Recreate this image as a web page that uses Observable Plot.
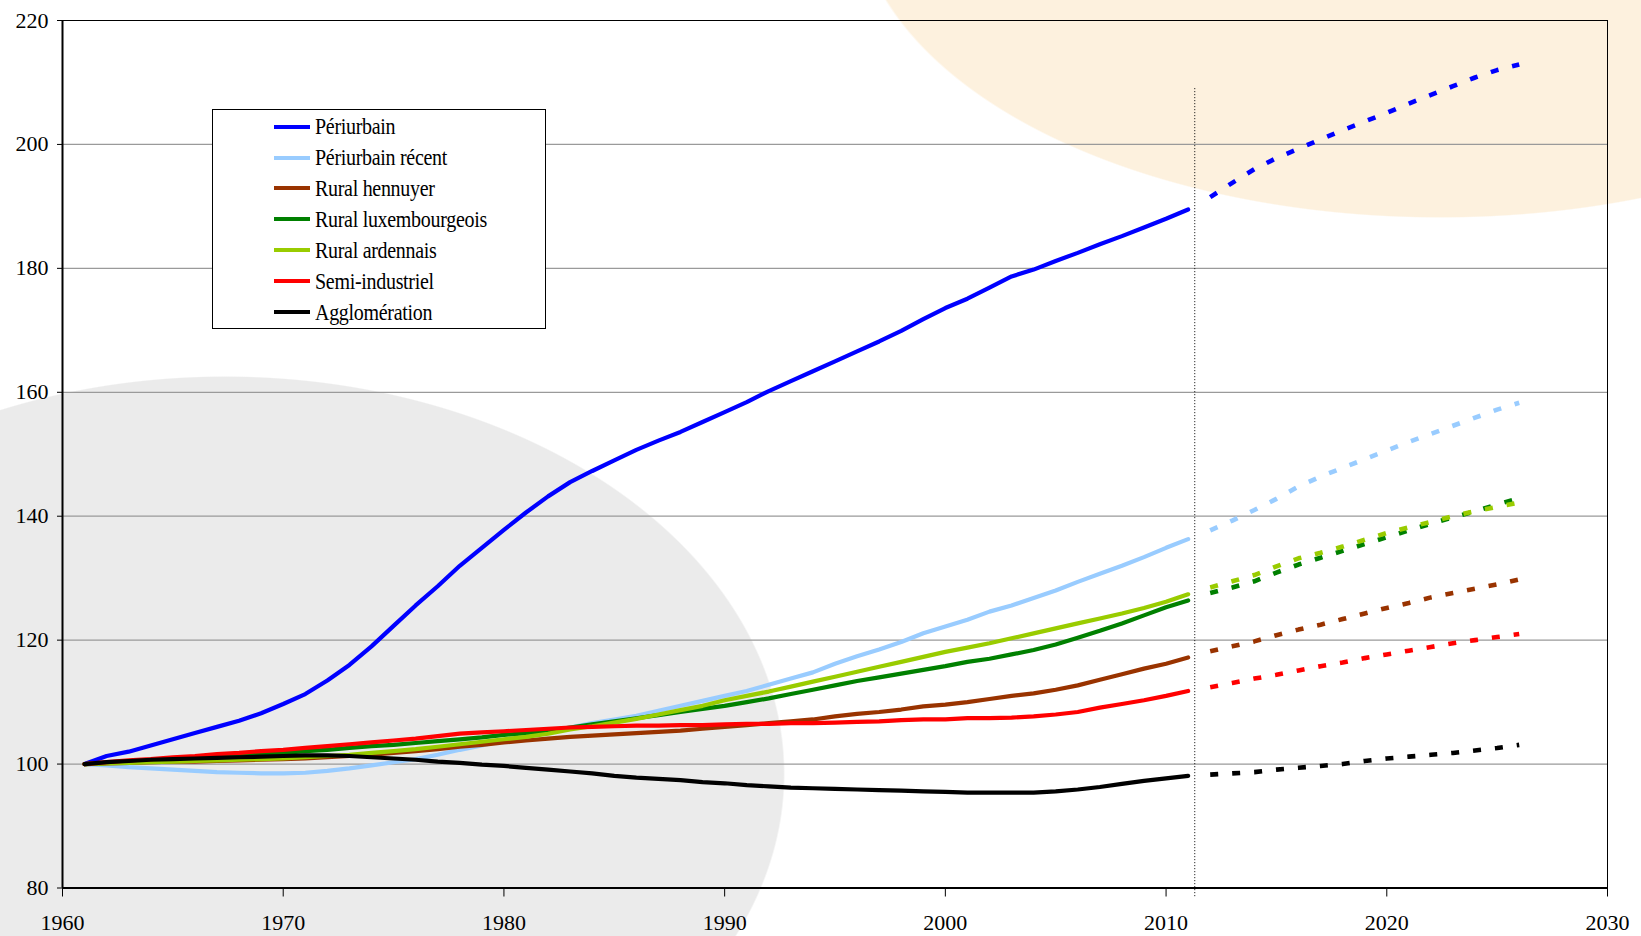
<!DOCTYPE html>
<html>
<head>
<meta charset="utf-8">
<script src="https://cdn.jsdelivr.net/npm/d3@7"></script>
<script src="https://cdn.jsdelivr.net/npm/@observablehq/plot@0.6"></script>
<style>
  html, body { margin: 0; padding: 0; background: #fff; }
  #wrap {
    position: relative; width: 1641px; height: 936px; overflow: hidden;
    background:
      radial-gradient(585px 318px at 1440px -100px, #fdf1de 0, #fdf1de 99.6%, rgba(253,241,222,0) 100%),
      radial-gradient(560px 398px at 225px 774px, #ebebeb 0, #ebebeb 99.7%, rgba(235,235,235,0) 100%),
      #ffffff;
  }
  #legend {
    position: absolute; left: 212px; top: 109px; width: 334px; height: 220px;
    border: 1px solid #000; background: #fff; box-sizing: border-box;
    font-family: "Liberation Serif", "Times New Roman", serif; font-size: 20px; color: #000;
  }
  #legend .row { position: absolute; left: 0; height: 24px; display: flex; align-items: center; }
  #legend .sw { position: absolute; left: 61px; width: 36px; height: 4px; }
  #legend .lb { position: absolute; left: 102px; white-space: nowrap; letter-spacing: -0.3px; transform: scaleY(1.18); transform-origin: left center; }
</style>
</head>
<body>
<div id="wrap"><div id="chart"></div><div id="legend"></div></div>
<script>
// ---- data ----
const years = d3.range(1961, 2012);
const projYears = d3.range(2012, 2027);
const seriesNames = ["Périurbain", "Périurbain récent", "Rural hennuyer", "Rural luxembourgeois", "Rural ardennais", "Semi-industriel", "Agglomération"];
const seriesColors = ["#0000ff", "#99ccff", "#993300", "#008000", "#99cc00", "#ff0000", "#000000"];
const yTicks = [80, 100, 120, 140, 160, 180, 200, 220];
const xTicks = [1960, 1970, 1980, 1990, 2000, 2010, 2020, 2030];
const baseYear = 2011.3;

const periurbain = [100,101.3,102,103,104,105,106,107,108.2,109.7,111.3,113.5,116,119,122.3,125.6,128.7,132,134.9,137.8,140.6,143.2,145.5,147.3,149,150.7,152.2,153.6,155.2,156.8,158.4,160.2,161.8,163.4,165,166.6,168.2,169.9,171.8,173.6,175.1,176.9,178.7,179.8,181.2,182.5,183.9,185.2,186.6,188,189.5];
const periurbainRecent = [100,99.8,99.5,99.3,99.1,98.9,98.7,98.6,98.5,98.5,98.6,98.9,99.3,99.8,100.3,100.8,101.5,102.3,103,103.8,104.5,105.2,105.9,106.6,107.2,107.8,108.6,109.4,110.2,111,111.8,112.8,113.8,114.8,116.2,117.4,118.5,119.7,121.1,122.2,123.3,124.6,125.6,126.8,128,129.4,130.7,132,133.4,134.9,136.3];
const ruralHennuyer = [100,100.1,100.2,100.3,100.4,100.4,100.5,100.6,100.7,100.8,100.9,101.1,101.3,101.5,101.8,102.1,102.4,102.8,103.1,103.5,103.8,104.1,104.4,104.6,104.8,105,105.2,105.4,105.7,106,106.3,106.6,106.9,107.2,107.7,108.1,108.4,108.8,109.3,109.6,110,110.5,111,111.4,112,112.7,113.6,114.5,115.4,116.2,117.2];
const ruralLux = [100,100.2,100.4,100.6,100.8,101,101.2,101.4,101.6,101.8,102.1,102.3,102.6,102.9,103.1,103.4,103.7,104,104.3,104.7,105,105.4,105.9,106.4,106.9,107.4,107.9,108.4,108.9,109.4,110,110.6,111.3,112,112.7,113.4,114,114.6,115.2,115.8,116.5,117,117.7,118.4,119.3,120.4,121.5,122.7,124,125.3,126.4];
const ruralArdennais = [100,100.1,100.2,100.3,100.4,100.5,100.6,100.7,100.8,100.9,101.1,101.3,101.5,101.8,102.1,102.4,102.8,103.2,103.6,104,104.4,104.9,105.6,106.1,106.7,107.3,108,108.7,109.4,110.3,111,111.7,112.5,113.3,114.1,114.9,115.7,116.5,117.3,118.1,118.8,119.5,120.3,121.1,121.9,122.7,123.5,124.3,125.2,126.2,127.4];
const semiIndustriel = [100,100.3,100.6,100.8,101.1,101.3,101.6,101.8,102.1,102.3,102.6,102.9,103.2,103.5,103.8,104.1,104.5,104.9,105.1,105.3,105.5,105.7,105.9,106,106.1,106.2,106.2,106.3,106.3,106.4,106.5,106.5,106.6,106.6,106.7,106.8,106.9,107.1,107.2,107.2,107.4,107.4,107.5,107.7,108,108.4,109.1,109.7,110.3,111,111.8];
const agglomeration = [100,100.3,100.5,100.7,100.8,100.9,101,101.1,101.2,101.3,101.4,101.4,101.3,101.1,100.9,100.7,100.4,100.2,99.9,99.7,99.4,99.1,98.8,98.5,98.1,97.8,97.6,97.4,97.1,96.9,96.6,96.4,96.2,96.1,96,95.9,95.8,95.7,95.6,95.5,95.4,95.4,95.4,95.4,95.6,95.9,96.3,96.8,97.3,97.7,98.1];

const projPeriurbain = [191.5,193.8,196,197.8,199.3,200.8,202.3,203.7,205.1,206.6,208,209.4,210.8,212,212.9];
const projPeriurbainRecent = [137.7,139.3,141,142.8,144.8,146.4,147.8,149.2,150.6,152,153.3,154.6,155.9,157.2,158.3];
const projRuralHennuyer = [118.2,119,119.8,120.8,121.7,122.5,123.4,124.3,125.2,126,126.9,127.6,128.3,129,129.8];
const projRuralLux = [127.6,128.5,129.5,130.9,132.2,133.3,134.4,135.5,136.6,137.7,138.8,139.8,140.8,141.9,142.9];
const projRuralArdennais = [128.5,129.5,130.5,131.9,133.2,134.1,135.1,136.2,137.3,138.2,139.1,140,140.8,141.5,142.2];
const projSemiIndustriel = [112.4,113.1,113.8,114.4,115.1,115.8,116.4,117.1,117.7,118.3,118.9,119.5,120,120.5,121];
const projAgglomeration = [98.3,98.5,98.7,99.1,99.4,99.7,100,100.5,100.9,101.2,101.5,101.8,102.2,102.6,103.1];

const observed = [periurbain, periurbainRecent, ruralHennuyer, ruralLux, ruralArdennais, semiIndustriel, agglomeration];
const projected = [projPeriurbain, projPeriurbainRecent, projRuralHennuyer, projRuralLux, projRuralArdennais, projSemiIndustriel, projAgglomeration];

const obsRows = seriesNames.flatMap((s, i) => years.map((y, j) => ({series: s, year: y, value: observed[i][j]})));
const projRows = seriesNames.flatMap((s, i) => projYears.map((y, j) => ({series: s, year: y, value: projected[i][j]})));

const font = '"Liberation Serif", "Times New Roman", serif';

const chart = Plot.plot({
  width: 1641,
  height: 936,
  marginLeft: 62,
  marginRight: 34,
  marginTop: 20,
  marginBottom: 48.5,
  style: {background: "transparent", fontFamily: font, fontSize: "22px", color: "#000", overflow: "visible"},
  x: {domain: [1960, 2030], ticks: xTicks, tickFormat: d => String(d), tickSize: 9, tickPadding: 17, label: null},
  y: {domain: [80, 220], ticks: yTicks, tickSize: 5, tickPadding: 9, label: null},
  color: {domain: seriesNames, range: seriesColors},
  marks: [
    Plot.ruleY(yTicks.filter(t => t > 80 && t < 220), {stroke: "#9a9a9a", strokeWidth: 1.3}),
    Plot.frame({stroke: "#000", strokeWidth: 1}),
    Plot.ruleX([1960], {stroke: "#000", strokeWidth: 2}),
    Plot.ruleY([80], {stroke: "#000", strokeWidth: 2}),
    Plot.ruleX([baseYear], {y1: 209, y2: 78.3, stroke: "#000", strokeWidth: 1, strokeDasharray: "1,2"}),
    Plot.line(projRows, {x: "year", y: "value", z: "series", stroke: "series", strokeWidth: 4.6, strokeDasharray: "8,14", strokeLinecap: "butt"}),
    Plot.line(obsRows, {x: "year", y: "value", z: "series", stroke: "series", strokeWidth: 4.2})
  ]
});
document.getElementById("chart").appendChild(chart);

// legend
const legend = document.getElementById("legend");
seriesNames.forEach((name, i) => {
  const row = document.createElement("div");
  row.className = "row";
  row.style.top = (4.6 + i * 30.9) + "px";
  const sw = document.createElement("span");
  sw.className = "sw";
  sw.style.background = seriesColors[i];
  const lb = document.createElement("span");
  lb.className = "lb";
  lb.textContent = name;
  row.appendChild(sw);
  row.appendChild(lb);
  legend.appendChild(row);
});
</script>
</body>
</html>
